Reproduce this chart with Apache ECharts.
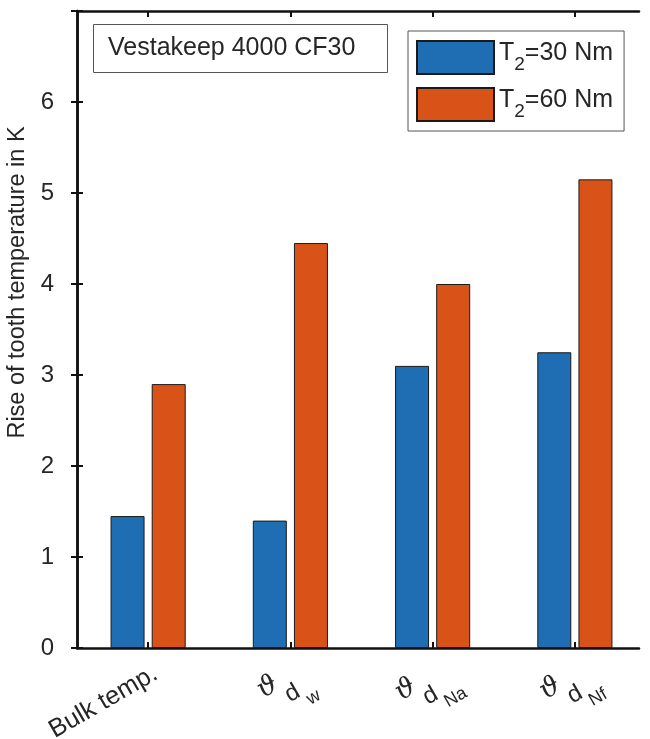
<!DOCTYPE html>
<html>
<head>
<meta charset="utf-8">
<script src="https://cdn.jsdelivr.net/npm/echarts@6/dist/echarts.min.js"></script>
<style>
html,body{margin:0;padding:0;background:#fff;}
#chart{width:650px;height:739px;}
</style>
</head>
<body>
<div id="chart"></div>
<script>
// ---- data ----
const categories = ['Bulk temp.', 'ϑ d w', 'ϑ d Na', 'ϑ d Nf'];
const subLabels = ['', 'w', 'Na', 'Nf'];
const torques = [30, 60];
const rise30 = [1.45, 1.40, 3.10, 3.25];
const rise60 = [2.90, 4.45, 4.00, 5.15];
const yTicks = [0, 1, 2, 3, 4, 5, 6];
const titleText = 'Vestakeep 4000 CF30';
const yName = 'Rise of tooth temperature in K';

const FONT = '"Liberation Sans", Arial, Helvetica, sans-serif';
const INK = '#262626';
const seriesNames = torques.map(t => 'T2=' + t + ' Nm');

const xData = categories.map((c, i) => {
  if (i === 0) return { value: c, textStyle: { verticalAlign: 'top', padding: [2, 0, 0, 0] } };
  return { value: c, textStyle: { align: 'center', verticalAlign: 'top', padding: [0, 36, 0, 0] } };
});

const chart = echarts.init(document.getElementById('chart'), null, { renderer: 'canvas' });
const option = {
  animation: false,
  backgroundColor: '#fff',
  title: {
    text: titleText,
    left: 93, top: 24,
    padding: [12, 32, 12, 15],
    borderWidth: 1, borderColor: '#555',
    textStyle: { fontFamily: FONT, fontSize: 25, fontWeight: 'normal', color: INK }
  },
  legend: {
    data: seriesNames,
    orient: 'vertical',
    left: 408, top: 31,
    padding: [9, 11, 9, 8],
    itemWidth: 77, itemHeight: 33, itemGap: 12,
    backgroundColor: '#fff',
    borderWidth: 1, borderColor: '#555',
    icon: 'rect',
    formatter: name => '{a|T}{s|2}{a|' + name.slice(2) + '}',
    textStyle: {
      fontFamily: FONT, color: INK,
      rich: {
        a: { fontFamily: FONT, fontSize: 25, color: INK, verticalAlign: 'bottom', padding: [0, 0, 8, 0] },
        s: { fontFamily: FONT, fontSize: 19, color: INK, verticalAlign: 'bottom' }
      }
    }
  },
  grid: [
    { left: 77, right: 4, top: 11, bottom: 91, containLabel: false, outerBoundsMode: 'none' },
    { left: 77, right: 11, top: 11, bottom: 91, containLabel: false, outerBoundsMode: 'none' }
  ],
  xAxis: [
    {
      gridIndex: 0, type: 'category', data: xData, position: 'bottom',
      axisLine: { show: false },
      axisTick: { show: true, inside: true, alignWithLabel: true, length: 6, lineStyle: { color: '#111', width: 2 } },
      axisLabel: {
        rotate: 30, margin: 11, interval: 0,
        fontFamily: FONT, fontSize: 25.5, color: INK,
        formatter: (v, i) => i === 0 ? v : '{th|ϑ}{d|d}{s|' + subLabels[i] + '}',
        rich: {
          th: { fontFamily: '"DejaVu Serif", serif', fontStyle: 'italic', fontSize: 27, color: INK, verticalAlign: 'bottom', padding: [0, 2, 27, 0] },
          d: { fontFamily: FONT, fontSize: 24, color: INK, verticalAlign: 'bottom', padding: [0, 3, 11, 0] },
          s: { fontFamily: FONT, fontSize: 18, color: INK, verticalAlign: 'bottom' }
        }
      },
      splitLine: { show: false }
    },
    {
      gridIndex: 0, type: 'category', data: categories, position: 'top',
      axisLine: { show: false },
      axisTick: { show: true, inside: true, alignWithLabel: true, length: 6, lineStyle: { color: '#111', width: 2 } },
      axisLabel: { show: false },
      splitLine: { show: false }
    },
    {
      gridIndex: 1, type: 'value', position: 'bottom', min: 0, max: 1,
      axisLine: { show: true, lineStyle: { color: '#111', width: 2.5 } },
      axisTick: { show: false }, axisLabel: { show: false }, splitLine: { show: false }
    },
    {
      gridIndex: 1, type: 'value', position: 'top', min: 0, max: 1,
      axisLine: { show: true, lineStyle: { color: '#111', width: 2.5 } },
      axisTick: { show: false }, axisLabel: { show: false }, splitLine: { show: false }
    }
  ],
  yAxis: [
    {
      gridIndex: 0, type: 'value', min: 0, max: 7, interval: 1, position: 'left',
      name: yName, nameLocation: 'middle', nameGap: 45,
      nameTextStyle: { fontFamily: FONT, fontSize: 23.5, color: INK, padding: [0, 0, 0, 94] },
      axisLine: { show: true, lineStyle: { color: '#111', width: 2.5 } },
      axisTick: { show: true, inside: true, length: 6, lineStyle: { color: '#111', width: 2 } },
      axisLabel: {
        margin: 23, fontFamily: FONT, fontSize: 24, color: INK,
        formatter: v => yTicks.indexOf(v) >= 0 ? String(v) : ''
      },
      splitLine: { show: false }
    },
    {
      gridIndex: 1, type: 'value', min: 0, max: 7, interval: 1, position: 'right',
      axisLine: { show: true, lineStyle: { color: '#111', width: 2.5 } },
      axisTick: { show: true, inside: true, length: 6, lineStyle: { color: '#111', width: 2 } },
      axisLabel: { show: false },
      splitLine: { show: false }
    }
  ],
  series: [
    {
      name: seriesNames[0], type: 'bar', xAxisIndex: 0, yAxisIndex: 0,
      data: rise30, barWidth: 34, barGap: '21%',
      itemStyle: { color: '#1f6eb4', borderColor: '#1a1a1a', borderWidth: 1 }
    },
    {
      name: seriesNames[1], type: 'bar', xAxisIndex: 0, yAxisIndex: 0,
      data: rise60, barWidth: 34, barGap: '21%',
      itemStyle: { color: '#d95319', borderColor: '#1a1a1a', borderWidth: 1 }
    }
  ]
};
chart.setOption(option);
</script>
</body>
</html>
